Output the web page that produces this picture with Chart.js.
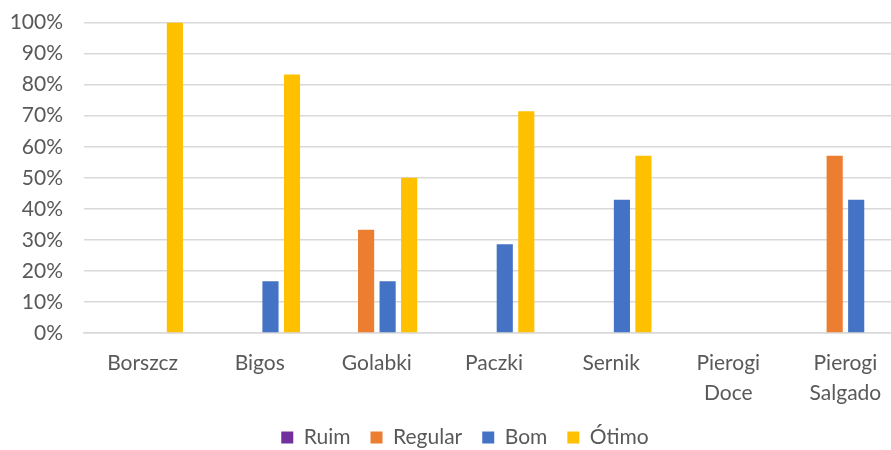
<!DOCTYPE html>
<html>
<head>
<meta charset="utf-8">
<script src="https://cdn.jsdelivr.net/npm/chart.js@4/dist/chart.umd.min.js"></script>
<style>
  html, body { margin: 0; padding: 0; background: #fff; overflow: hidden; }
  #wrap { width: 930px; height: 461px; margin-top: -11px; }
</style>
</head>
<body>
<div id="wrap"><canvas id="chart" width="930" height="461"></canvas></div>
<script>
// data
const categories = ["Borszcz", "Bigos", "Golabki", "Paczki", "Sernik", ["Pierogi", "Doce"], ["Pierogi", "Salgado"]];
const ruim    = [0, 0, 0, 0, 0, 0, 0];
const regular = [0, 0, 33.3, 0, 0, 0, 57.1];
const bom     = [0, 16.7, 16.7, 28.6, 42.9, 0, 42.9];
const otimo   = [100, 83.3, 50, 71.4, 57.1, 0, 0];
const yTicks  = [0, 10, 20, 30, 40, 50, 60, 70, 80, 90, 100];

const textColor = "#595959";
const font = { family: "Lato, 'Open Sans', sans-serif", size: 21 };

function ds(label, data, color) {
  return { label, data, backgroundColor: color, borderWidth: 0,
           barPercentage: 0.75, categoryPercentage: 0.735 };
}

// let the y labels use the space of the left padding (otherwise they get clipped)
const widenY = {
  id: "widenY",
  afterLayout(chart) {
    const y = chart.scales.y;
    y.left = 0;
    y.width = y.right;
  }
};

new Chart(document.getElementById("chart"), {
  type: "bar",
  data: {
    labels: categories,
    datasets: [
      ds("Ruim", ruim, "#7030A0"),
      ds("Regular", regular, "#ED7D31"),
      ds("Bom", bom, "#4472C4"),
      ds("Ótimo", otimo, "#FFC000")
    ]
  },
  plugins: [widenY],
  options: {
    responsive: false,
    animation: false,
    layout: { padding: { top: 2, right: 26, left: 26, bottom: -8 } },
    plugins: {
      tooltip: { enabled: false },
      legend: {
        position: "bottom",
        labels: { boxWidth: 12, boxHeight: 12, padding: 20, color: textColor, font }
      }
    },
    scales: {
      x: {
        afterFit: s => { s.height = 74; },
        grid: { display: false },
        border: { display: true, color: "#d9d9d9", width: 1.5 },
        ticks: { color: textColor, font: { ...font, lineHeight: 1.43 }, padding: 7, maxRotation: 0, autoSkip: false }
      },
      y: {
        min: 0,
        max: 100,
        afterFit: s => { s.width = 58; },
        afterBuildTicks: s => { s.ticks = yTicks.map(v => ({ value: v })); },
        grid: { color: "#d9d9d9", lineWidth: 1.5, drawTicks: false },
        border: { display: false },
        ticks: { color: textColor, font, padding: 21, callback: v => v + "%" }
      }
    }
  }
});
</script>
</body>
</html>
